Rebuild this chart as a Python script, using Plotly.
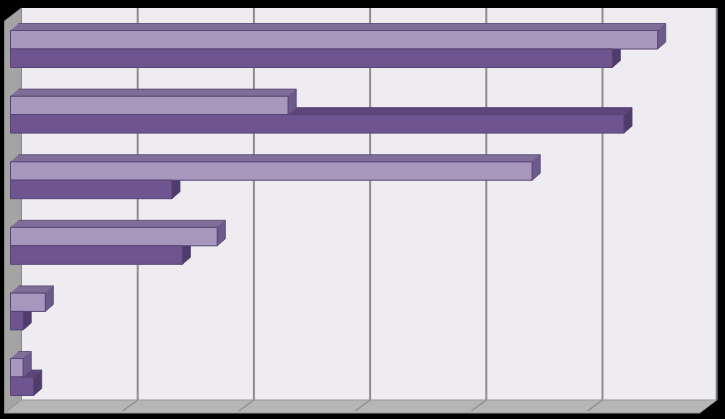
import plotly.graph_objects as go

# chart data (no labels visible in the original)
categories = ["Category 1", "Category 2", "Category 3", "Category 4", "Category 5", "Category 6"]
series_names = ["Series 1", "Series 2"]
light_values = [5.57, 2.39, 4.49, 1.78, 0.30, 0.11]
dark_values = [5.18, 5.28, 1.39, 1.48, 0.11, 0.20]
axis_max = 6

W, H = 725, 419

# pixel geometry of the fake 3d frame
X0 = 10.5      # value 0 on the bars' front plane
UNIT = 116.2   # px per unit
Y0 = 49        # first category boundary
GROUP = 65.6   # px per category
BAR_PX = 18.5
BACK_X0 = 21.5
WALL_DX, WALL_DY = 17, 13
TOP_Y, FLOOR_Y = 8, 400

bar_h = BAR_PX / GROUP
ddx = 8 / UNIT
ddy = 7 / GROUP

LIGHT = "#a797bd"
LIGHT_TOP = "#7f6f98"
LIGHT_CAP = "#6c5a8a"
DARK = "#6f5590"
DARK_TOP = "#5c4679"
DARK_CAP = "#4f3b6c"
EDGE = "#574475"


def paper(px, py):
    return px / W, 1 - py / H


def path(points):
    pts = [paper(x, y) for x, y in points]
    return "M " + " L ".join("{:.5f},{:.5f}".format(x, y) for x, y in pts) + " Z"


ys = list(range(len(categories)))

fig = go.Figure()

fig.add_trace(go.Bar(y=ys, x=light_values, orientation="h", name=series_names[0],
                     width=bar_h, offset=-bar_h, marker=dict(color=LIGHT, line=dict(color=EDGE, width=1))))
fig.add_trace(go.Bar(y=ys, x=dark_values, orientation="h", name=series_names[1],
                     width=bar_h, offset=0, marker=dict(color=DARK, line=dict(color=EDGE, width=1))))


def add_faces(polys, color):
    xs, yy = [], []
    for poly in polys:
        for px_, py_ in poly:
            xs.append(px_)
            yy.append(py_)
        xs.append(None)
        yy.append(None)
    fig.add_trace(go.Scatter(x=xs, y=yy, mode="lines", fill="toself", fillcolor=color,
                             line=dict(color=EDGE, width=0.8), hoverinfo="skip", showlegend=False))


dark_tops, dark_caps, light_tops, light_caps = [], [], [], []
for i, lv, dv in zip(ys, light_values, dark_values):
    if dv > lv:
        dark_tops.append([(lv, i), (dv, i), (dv + ddx, i - ddy), (lv + ddx, i - ddy)])
        dark_caps.append([(dv, i), (dv, i + bar_h), (dv + ddx, i + bar_h - ddy), (dv + ddx, i - ddy)])
    else:
        dark_caps.append([(dv, i), (dv, i + bar_h), (dv + ddx, i + bar_h - ddy), (dv + ddx, i)])
    t = i - bar_h
    light_tops.append([(0, t), (lv, t), (lv + ddx, t - ddy), (ddx, t - ddy)])
    light_caps.append([(lv, t), (lv, i), (lv + ddx, i - ddy), (lv + ddx, t - ddy)])

add_faces(dark_tops, DARK_TOP)
add_faces(dark_caps, DARK_CAP)
add_faces(light_tops, LIGHT_TOP)
add_faces(light_caps, LIGHT_CAP)

# walls, floor and gridlines
back_right = BACK_X0 + axis_max * UNIT - 2
shapes = [
    dict(type="path", path=path([(BACK_X0, TOP_Y), (back_right, TOP_Y), (back_right, FLOOR_Y), (BACK_X0, FLOOR_Y)]),
         fillcolor="#eeebf1", line=dict(width=0)),
    dict(type="path", path=path([(BACK_X0 - WALL_DX, TOP_Y + WALL_DY), (BACK_X0, TOP_Y), (BACK_X0, FLOOR_Y),
                                 (BACK_X0 - WALL_DX, FLOOR_Y + WALL_DY)]),
         fillcolor="#a4a4a4", line=dict(color="#8a8a8a", width=1)),
    dict(type="path", path=path([(BACK_X0, FLOOR_Y), (back_right, FLOOR_Y), (back_right - WALL_DX, FLOOR_Y + WALL_DY),
                                 (BACK_X0 - WALL_DX, FLOOR_Y + WALL_DY)]),
         fillcolor="#b6b6b6", line=dict(color="#9a9a9a", width=1)),
]
for k in range(1, axis_max):
    gx = BACK_X0 + k * UNIT
    shapes.append(dict(type="line",
                       x0=paper(gx, TOP_Y)[0], y0=paper(gx, TOP_Y)[1], x1=paper(gx, FLOOR_Y)[0], y1=paper(gx, FLOOR_Y)[1],
                       line=dict(color="#8e8e8e", width=2)))
    shapes.append(dict(type="line",
                       x0=paper(gx, FLOOR_Y)[0], y0=paper(gx, FLOOR_Y)[1],
                       x1=paper(gx - WALL_DX + 2, FLOOR_Y + WALL_DY - 2)[0], y1=paper(gx - WALL_DX + 2, FLOOR_Y + WALL_DY - 2)[1],
                       line=dict(color="#8e8e8e", width=1.5)))
shapes.append(dict(type="line",
                   x0=paper(back_right, TOP_Y)[0], y0=paper(back_right, TOP_Y)[1],
                   x1=paper(back_right, FLOOR_Y)[0], y1=paper(back_right, FLOOR_Y)[1],
                   line=dict(color="#7a7a7a", width=2)))
for s in shapes:
    s["xref"] = "paper"
    s["yref"] = "paper"
    s["layer"] = "below"

fig.update_layout(
    width=W, height=H,
    margin=dict(l=0, r=0, t=0, b=0),
    paper_bgcolor="#000000",
    plot_bgcolor="#000000",
    showlegend=False,
    shapes=shapes,
    xaxis=dict(range=[-X0 / UNIT, (W - X0) / UNIT], visible=False, fixedrange=True),
    yaxis=dict(range=[(H - Y0) / GROUP, -Y0 / GROUP], visible=False, fixedrange=True),
)

# the page body has a default 8px margin, drop it so the chart fills the window
fig.write_html("out.html", config={"displayModeBar": False},
               post_script="document.body.style.margin='0';document.body.style.background='#000';")
